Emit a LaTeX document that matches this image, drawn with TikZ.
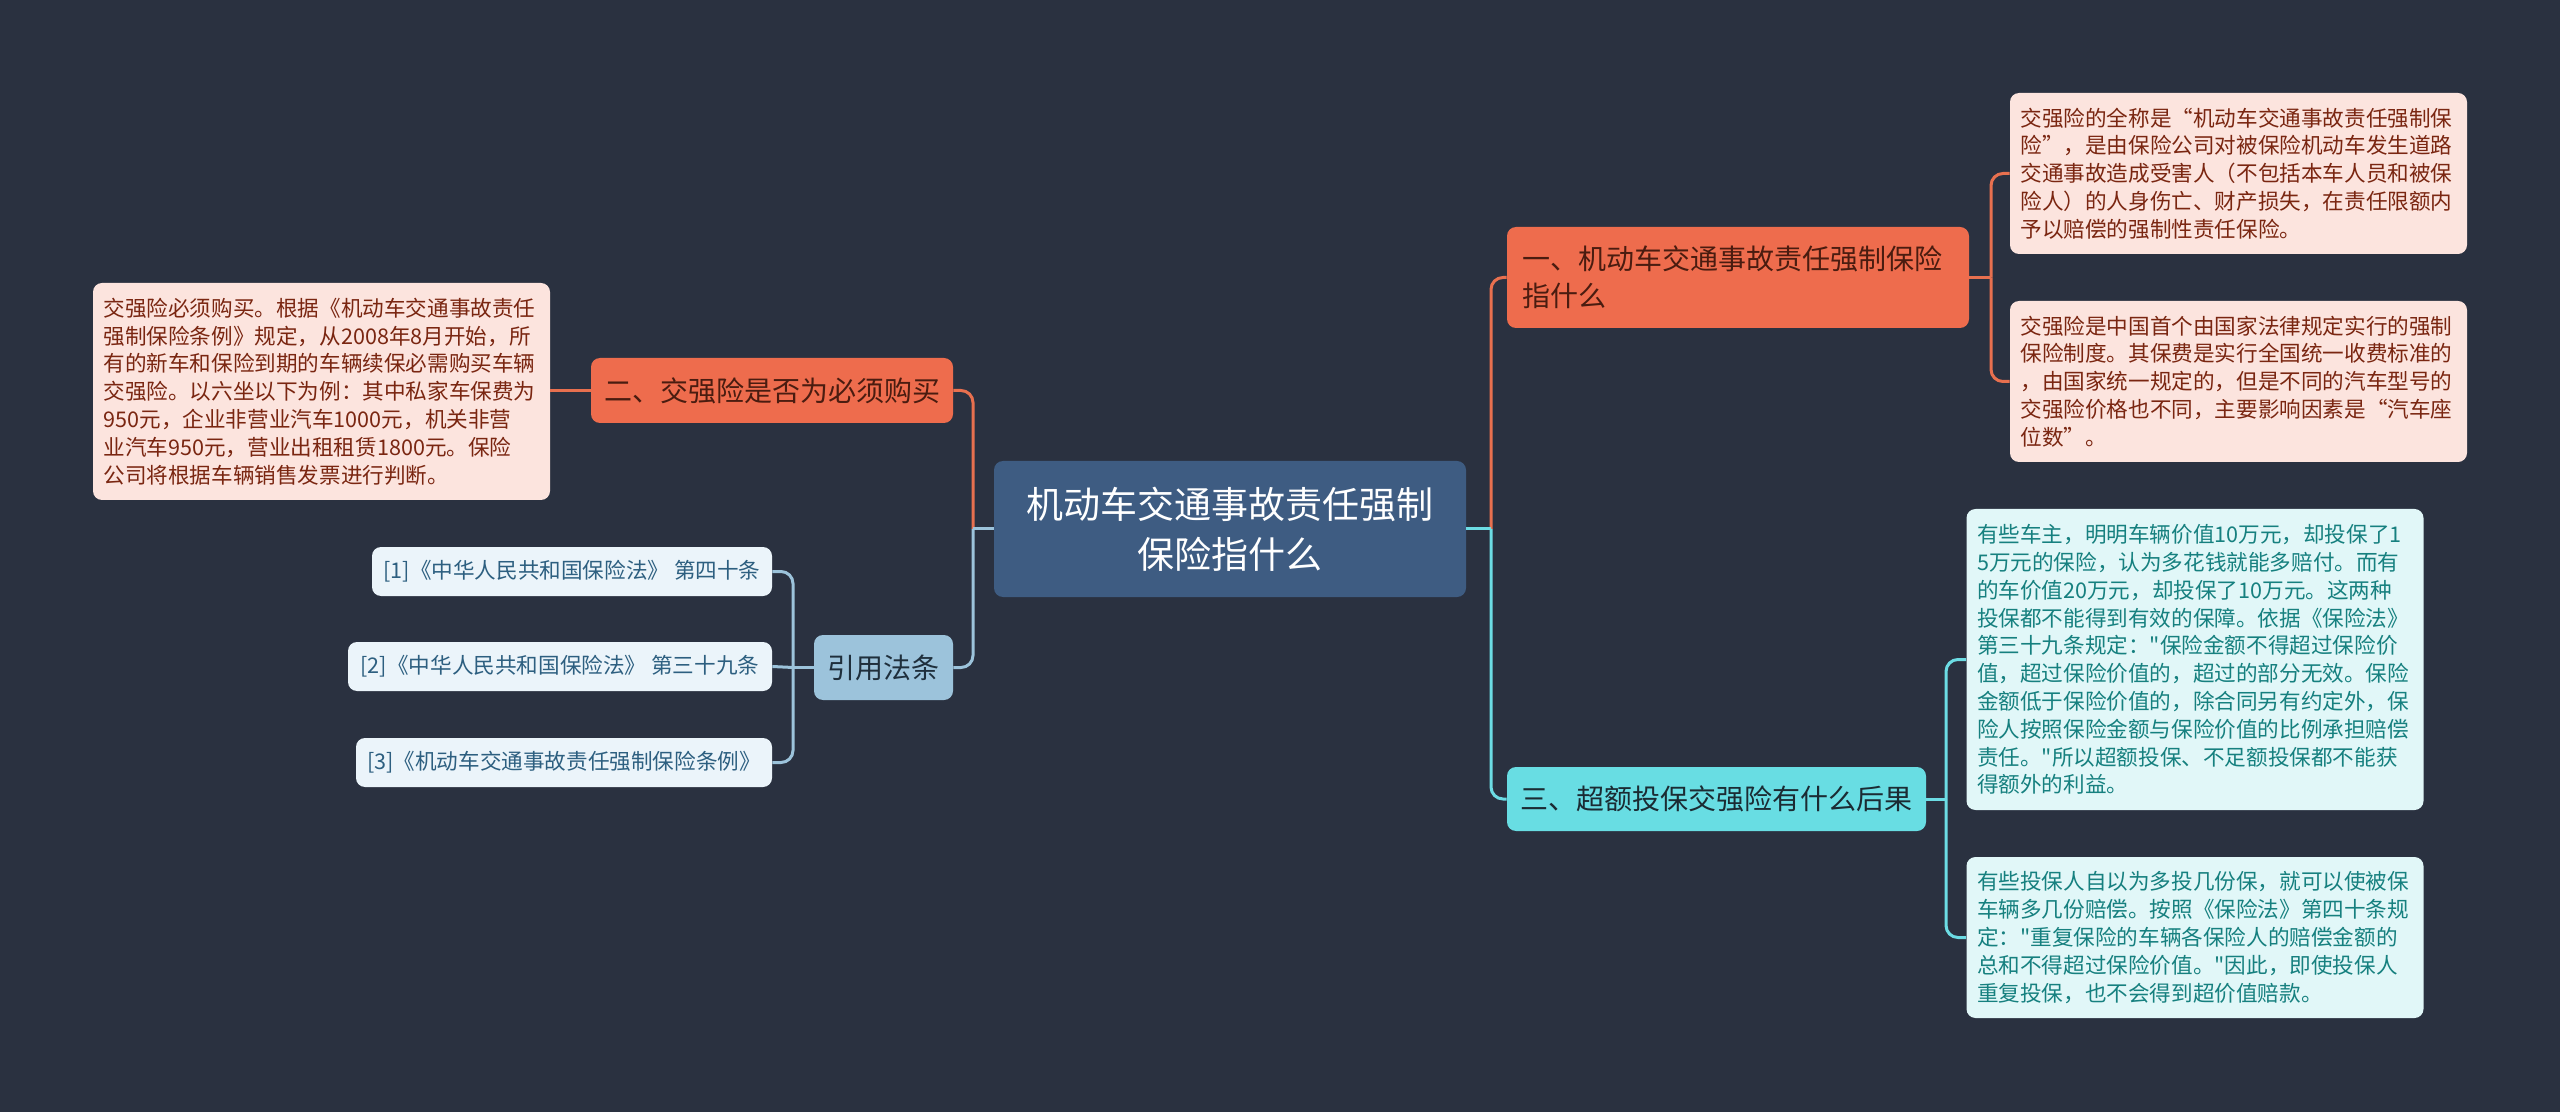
\documentclass[tikz,border=0pt]{standalone}
\usepackage{fontspec}
\setmainfont{Noto Sans CJK SC}[Ligatures=TeXOff]
\definecolor{bg}{HTML}{2A3140}
\definecolor{cfill}{HTML}{3E5C82}
\definecolor{ofill}{HTML}{EE6C4D}
\definecolor{otext}{HTML}{4A1C10}
\definecolor{cyfill}{HTML}{68DDE3}
\definecolor{cytext}{HTML}{1B2B33}
\definecolor{bfill}{HTML}{9CC3DB}
\definecolor{btext}{HTML}{1F2F3C}
\definecolor{rfill}{HTML}{EBF4FA}
\definecolor{rtext}{HTML}{2D5F80}
\definecolor{pfill}{HTML}{FCE4DE}
\definecolor{ptext}{HTML}{7A2611}
\definecolor{lfill}{HTML}{E1F7F8}
\definecolor{ltext}{HTML}{16807F}
\definecolor{ocol}{HTML}{E8704F}
\definecolor{ccol}{HTML}{6CDCE4}
\definecolor{bcol}{HTML}{9CC3DB}
\tikzset{
  every node/.style={inner sep=0pt},
  bx/.style={rounded corners=4.5pt},
  ctr/.style={bx, fill=cfill, text=white, minimum width=236pt, minimum height=68pt, align=center, font=\fontsize{18.5}{25}\selectfont},
  brfont/.style={font=\fontsize{14}{18.5}\selectfont},
  org/.style={bx, brfont, fill=ofill, text=otext},
  cya/.style={bx, brfont, fill=cyfill, text=cytext},
  blu/.style={bx, brfont, fill=bfill, text=btext},
  refb/.style={bx, fill=rfill, text=rtext, minimum height=24.5pt, font=\fontsize{10.8}{13.9}\selectfont},
  leaf/.style={bx, minimum width=228.5pt, text width=218pt, align=left, font=\fontsize{10.8}{13.9}\selectfont},
  pnk/.style={leaf, fill=pfill, text=ptext},
  lcy/.style={leaf, fill=lfill, text=ltext},
  ln/.style={line width=1.5pt},
  rc/.style={rounded corners=6pt}
}
\begin{document}
\begin{tikzpicture}[x=0.5pt,y=-0.5pt]
\fill[bg] (0,0) rectangle (2560,1112);
\useasboundingbox (0,0) rectangle (2560,1112);

% nodes
\node[ctr] (c) at (1230,529) {机动车交通事故责任强制\\保险指什么};
\node[org, minimum width=231pt, minimum height=50.5pt, text width=216pt, align=left] (n1) at (1738,277.5) {一、机动车交通事故责任强制保险\\指什么};
\node[org, minimum width=181pt, minimum height=32.5pt] (n2) at (772,390.5) {二、交强险是否为必须购买};
\node[cya, minimum width=209.5pt, minimum height=32pt] (n3) at (1716.5,799) {三、超额投保交强险有什么后果};
\node[blu, minimum width=69.5pt, minimum height=32.5pt] (cite) at (883.5,667.5) {引用法条};

\node[refb, minimum width=200pt] (f1) at (572,571.5) {[1]《中华人民共和国保险法》 第四十条};
\node[refb, minimum width=212pt] (f2) at (560,666.5) {[2]《中华人民共和国保险法》 第三十九条};
\node[refb, minimum width=208pt] (f3) at (564,762.5) {[3]《机动车交通事故责任强制保险条例》};

\node[pnk, minimum height=108.5pt] (lt) at (321.5,391.5) {交强险必须购买。根据《机动车交通事故责任\\强制保险条例》规定，从2008年8月开始，所\\有的新车和保险到期的车辆续保必需购买车辆\\交强险。以六坐以下为例：其中私家车保费为\\950元，企业非营业汽车1000元，机关非营\\业汽车950元，营业出租租赁1800元。保险\\公司将根据车辆销售发票进行判断。};

\node[pnk, minimum height=80.5pt] (a1) at (2238.5,173.5) {交强险的全称是“机动车交通事故责任强制保\\险”，是由保险公司对被保险机动车发生道路\\交通事故造成受害人（不包括本车人员和被保\\险人）的人身伤亡、财产损失，在责任限额内\\予以赔偿的强制性责任保险。};
\node[pnk, minimum height=80.5pt] (a2) at (2238.5,381.5) {交强险是中国首个由国家法律规定实行的强制\\保险制度。其保费是实行全国统一收费标准的\\，由国家统一规定的，但是不同的汽车型号的\\交强险价格也不同，主要影响因素是“汽车座\\位数”。};

\node[lcy, minimum height=150.5pt] (b1) at (2195,659.5) {有些车主，明明车辆价值10万元，却投保了1\\5万元的保险，认为多花钱就能多赔付。而有\\的车价值20万元，却投保了10万元。这两种\\投保都不能得到有效的保障。依据《保险法》\\第三十九条规定："保险金额不得超过保险价\\值，超过保险价值的，超过的部分无效。保险\\金额低于保险价值的，除合同另有约定外，保\\险人按照保险金额与保险价值的比例承担赔偿\\责任。"所以超额投保、不足额投保都不能获\\得额外的利益。};
\node[lcy, minimum height=80.5pt] (b2) at (2195,937.5) {有些投保人自以为多投几份保，就可以使被保\\车辆多几份赔偿。按照《保险法》第四十条规\\定："重复保险的车辆各保险人的赔偿金额的\\总和不得超过保险价值。"因此，即使投保人\\重复投保，也不会得到超价值赔款。};

% junctions
\coordinate (jR) at (1491,529);
\coordinate (jL) at (973,529);
\coordinate (j1) at (1991,277.5);
\coordinate (j3) at (1946,799);
\coordinate (jC) at (793,667.5);

% connectors right
\draw[ln, ocol, rc] (jR) |- (n1.west);
\draw[ln, ccol, rc] (jR) |- (n3.west);
\draw[ln, ccol] (c.east) -- (jR);
\draw[ln, ocol] (n1.east) -- (j1);
\draw[ln, ocol, rc] (j1) |- (a1.west);
\draw[ln, ocol, rc] (j1) |- (a2.west);
\draw[ln, ccol] (n3.east) -- (j3);
\draw[ln, ccol, rc] (j3) |- (b1.west);
\draw[ln, ccol, rc] (j3) |- (b2.west);

% connectors left
\draw[ln, ocol, rc] (jL) |- (n2.east);
\draw[ln, bcol, rc] (jL) |- (cite.east);
\draw[ln, bcol] (c.west) -- (jL);
\draw[ln, ocol] (n2.west) -- (lt.east |- n2.west);
\draw[ln, bcol] (cite.west) -- (jC);
\draw[ln, bcol, rc] (jC) |- (f1.east);
\draw[ln, bcol] (jC) -- (f2.east);
\draw[ln, bcol, rc] (jC) |- (f3.east);
\end{tikzpicture}
\end{document}
